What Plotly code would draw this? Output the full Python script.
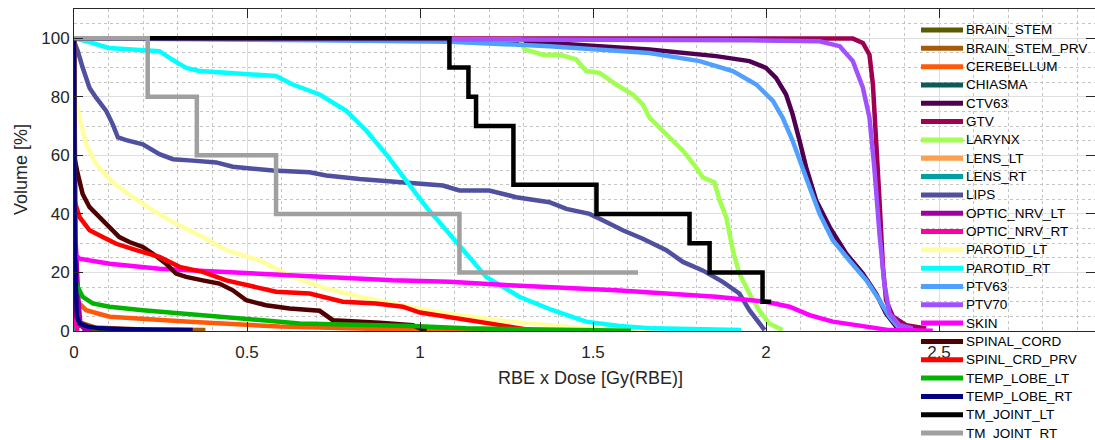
import plotly.graph_objects as go

# ---------------- data (dose in Gy(RBE), volume in %) ----------------
STRUCTURES = ["BRAIN_STEM", "BRAIN_STEM_PRV", "CEREBELLUM", "CHIASMA", "CTV63", "GTV",
              "LARYNX", "LENS_LT", "LENS_RT", "LIPS", "OPTIC_NRV_LT", "OPTIC_NRV_RT",
              "PAROTID_LT", "PAROTID_RT", "PTV63", "PTV70", "SKIN", "SPINAL_CORD",
              "SPINL_CRD_PRV", "TEMP_LOBE_LT", "TEMP_LOBE_RT", "TM_JOINT_LT", "TM_JOINT_RT"]

BRAIN_STEM_D = [0, 0.002, 0.01, 0.05, 0.15]
BRAIN_STEM_V = [100, 10, 2, 0.8, 0.3]
BRAIN_STEM_PRV_D = [0, 0.003, 0.015, 0.06, 0.2, 0.38]
BRAIN_STEM_PRV_V = [100, 15, 3, 1.2, 0.5, 0.3]
CEREBELLUM_D = [0, 0.002, 0.006, 0.035, 0.103, 0.247, 0.334, 0.594, 0.979, 1.35]
CEREBELLUM_V = [100, 20, 10.5, 7.1, 4.9, 3.7, 3.2, 1.5, 0.4, 0.1]
CHIASMA_D = [0, 0.002, 0.006]
CHIASMA_V = [100, 3, 0]
CTV63_D = [0, 0.8, 1.085, 1.374, 1.663, 1.856, 1.952, 2.0, 2.029, 2.058, 2.077, 2.097, 2.116,
           2.145, 2.184, 2.232, 2.28, 2.318, 2.347, 2.376, 2.415]
CTV63_V = [100, 99.8, 99.5, 98.4, 96.2, 93.9, 92.2, 89.9, 86.5, 80.8, 74, 65, 55.9,
           44.6, 35.5, 26.4, 19.6, 12.8, 6, 1.5, 0.3]
GTV_D = [0, 2.155, 2.251, 2.28, 2.299, 2.309, 2.318, 2.328, 2.338, 2.347, 2.367, 2.405, 2.463]
GTV_V = [100, 100, 99.9, 98.4, 94.4, 84.2, 67.2, 44.6, 21.9, 10.5, 4.9, 2, 0.9]
LARYNX_D = [0, 1.29, 1.302, 1.355, 1.403, 1.451, 1.48, 1.519, 1.567, 1.615, 1.644, 1.663,
            1.712, 1.76, 1.798, 1.817, 1.851, 1.866, 1.885, 1.904, 1.923, 1.952, 1.98,
            2.009, 2.048]
LARYNX_V = [100, 99.5, 96.2, 94.4, 94.4, 92.8, 88.8, 88.2, 84.2, 80.8, 77.4, 72.9,
            67.2, 61.6, 55.9, 52.5, 50.8, 44.6, 38.9, 27.6, 19.6, 12.8, 7.1,
            2.6, 0.3]
LENS_LT_D = [0, 0.003, 0.008]
LENS_LT_V = [100, 2, 0]
LENS_RT_D = [0, 0.003, 0.008]
LENS_RT_V = [100, 2, 0]
LIPS_D = [0, 0.011, 0.025, 0.045, 0.064, 0.093, 0.112, 0.127, 0.151, 0.199, 0.247, 0.286,
          0.343, 0.411, 0.459, 0.575, 0.681, 0.729, 0.825, 0.97, 1.066, 1.114, 1.2, 1.278,
          1.374, 1.423, 1.49, 1.528, 1.586, 1.644, 1.712, 1.76, 1.817, 1.875, 1.923,
          1.952, 1.98, 1.996]
LIPS_V = [99, 95.6, 90, 83, 79.7, 75.2, 70.6, 66.1, 65.2, 63.8, 60.4, 58.7,
          58.2, 57.6, 56.1, 54.8, 54.2, 53.1, 51.9, 50.8, 49.7, 48, 48, 45.7,
          44, 41.7, 40, 37.8, 34.4, 31.5, 27.6, 23.6, 20.7, 16.8, 12.8,
          7.1, 2.6, 0.3]
OPTIC_NRV_LT_D = [0, 0.005, 0.012, 0.018, 0.03, 0.05]
OPTIC_NRV_LT_V = [100, 30, 12, 3, 0.5, 0]
OPTIC_NRV_RT_D = [0, 0.002, 0.01]
OPTIC_NRV_RT_V = [100, 5, 0]
PAROTID_LT_D = [0, 0.0015, 0.016, 0.035, 0.064, 0.112, 0.17, 0.228, 0.295, 0.372, 0.44,
                0.536, 0.632, 0.729, 0.825, 0.921, 1.018, 1.114, 1.259, 1.48, 1.673]
PAROTID_LT_V = [100, 80.8, 72.9, 63.8, 57, 50.8, 45.7, 41.2, 36.6, 32.1, 27.6,
                24.1, 18.5, 14.5, 11.7, 9.4, 7.1, 5.4, 3.2, 0.9, 0.3]
PAROTID_RT_D = [0, 0.045, 0.10, 0.209, 0.247, 0.276, 0.324, 0.363, 0.44, 0.584, 0.632,
                0.71, 0.787, 0.845, 0.902, 0.96, 1.018, 1.076, 1.133, 1.191, 1.287,
                1.383, 1.48, 1.577, 1.672, 1.817, 1.928]
PAROTID_RT_V = [100, 98.7, 96.7, 95.8, 95.6, 93.3, 89.9, 88.8, 88.2, 87.1, 84.2,
                80.8, 75.2, 68.4, 60.4, 51.4, 42.3, 34.4, 26.4, 18.5, 11.7,
                7.1, 3.2, 1.7, 0.9, 0.6, 0.3]
PTV63_D = [0, 0.3, 0.7, 1.085, 1.374, 1.663, 1.808, 1.904, 1.972, 2.02, 2.048, 2.077, 2.097,
           2.126, 2.155, 2.193, 2.241, 2.29, 2.328, 2.357, 2.386, 2.415]
PTV63_V = [100, 99.8, 99.3, 98.8, 97.3, 95, 92.2, 88.8, 84.2, 78.6, 72.9, 65, 58.2,
           49.1, 40, 31, 24.1, 17.3, 10.5, 4.9, 0.9, 0.3]
PTV70_D = [0, 1.663, 1.952, 2.155, 2.213, 2.251, 2.28, 2.299, 2.313, 2.328, 2.342, 2.357,
           2.386, 2.424]
PTV70_V = [100, 99.6, 99.3, 99, 97.3, 92.2, 83.1, 72.9, 55.9, 33.2, 16.2, 6,
           2, 0.9]
SKIN_D = [0, 0.002, 0.016, 0.103, 0.247, 0.44, 0.632, 0.921, 1.085, 1.259, 1.567, 1.856,
          2.0, 2.068, 2.126, 2.193, 2.29, 2.357, 2.482]
SKIN_V = [100, 26.4, 24.7, 23, 21.3, 20.2, 19, 17.3, 16.8, 15.6, 13.9, 11.7,
          10, 8.3, 5.4, 3.2, 1.5, 0.3, 0.1]
SPINAL_CORD_D = [0, 0.001, 0.011, 0.025, 0.045, 0.074, 0.103, 0.131, 0.16, 0.199, 0.228,
                 0.266, 0.295, 0.324, 0.372, 0.42, 0.459, 0.498, 0.555, 0.623, 0.71,
                 0.748, 0.883, 0.979, 1.018]
SPINAL_CORD_V = [100, 59.3, 53.6, 46.8, 42.3, 38.9, 35.5, 32.1, 30.4, 28.7, 26.4,
                 23, 19.6, 18.5, 17.3, 16.2, 13.9, 10.5, 8.8, 7.7, 6.9,
                 3.7, 2.8, 2, 0]
SPINL_CRD_PRV_D = [0, 0.001, 0.016, 0.045, 0.083, 0.122, 0.18, 0.247, 0.305, 0.372, 0.44,
                   0.517, 0.584, 0.681, 0.777, 0.873, 0.95, 1.0, 1.114, 1.21, 1.259, 1.336]
SPINL_CRD_PRV_V = [100, 44.6, 38.9, 34.4, 32.1, 29.8, 27.6, 25.3, 21.9, 20.2, 17.3,
                   15.1, 13.4, 12.8, 10, 9.4, 8.3, 6.3, 4.3, 2.6, 1.5, 0]
TEMP_LOBE_LT_D = [0, 0.001, 0.006, 0.025, 0.054, 0.103, 0.199, 0.334, 0.594, 0.652, 0.979,
                  1.133, 1.61]
TEMP_LOBE_LT_V = [100, 19.7, 16.2, 11.7, 9.4, 8.3, 7.1, 5.8, 3.2, 2.6, 1.7,
                  0.9, 0.1]
TEMP_LOBE_RT_D = [0, 0.002, 0.008, 0.016, 0.04, 0.074, 0.15, 0.25, 0.343]
TEMP_LOBE_RT_V = [100, 30, 5, 2.6, 1.5, 0.9, 0.6, 0.4, 0.3]
TM_JOINT_LT_D = [0, 1.085, 1.14, 1.162, 1.27, 1.51, 1.779, 1.837, 1.99, 2.015]
TM_JOINT_LT_V = [100, 90, 80, 70, 50, 40, 30, 20, 10, 10]
TM_JOINT_RT_D = [0, 0.213, 0.355, 0.584, 1.114, 1.63]
TM_JOINT_RT_V = [100, 80, 60, 40, 20, 20]

X_TICKS = [0, 0.5, 1, 1.5, 2, 2.5]
X_TICK_LABELS = ["0", "0.5", "1", "1.5", "2", "2.5"]
Y_TICKS = [0, 20, 40, 60, 80, 100]
Y_TICK_LABELS = ["0", "20", "40", "60", "80", "100"]

# ---------------- styles ----------------
COLORS = {
    "BRAIN_STEM": "#5a5a00", "BRAIN_STEM_PRV": "#a65a0a", "CEREBELLUM": "#ff5a0a",
    "CHIASMA": "#0a5a5a", "CTV63": "#500050", "GTV": "#a0004f", "LARYNX": "#a0ff50",
    "LENS_LT": "#ffa050", "LENS_RT": "#00a0a0", "LIPS": "#5050a0", "OPTIC_NRV_LT": "#a000a0",
    "OPTIC_NRV_RT": "#ff00a0", "PAROTID_LT": "#ffffa0", "PAROTID_RT": "#00ffff",
    "PTV63": "#50a0ff", "PTV70": "#a050ff", "SKIN": "#ff00ff", "SPINAL_CORD": "#500000",
    "SPINL_CRD_PRV": "#ff0000", "TEMP_LOBE_LT": "#00b400", "TEMP_LOBE_RT": "#000080",
    "TM_JOINT_LT": "#000000", "TM_JOINT_RT": "#a0a0a0",
}
STEP = {"TM_JOINT_LT", "TM_JOINT_RT"}

data = {name: (globals()[name + "_D"], globals()[name + "_V"]) for name in STRUCTURES}

W, H = 1095, 440
ML, MT, MB = 74, 9, 109
PW, PH = W - ML, H - MT - MB
PX_PER_GY = 346.0
X_MAX = PW / PX_PER_GY

FONT = "Liberation Sans, Arial, Helvetica, sans-serif"
TXT = "#262626"


def px_x(px):
    return (px - ML) / PW


def px_y(py):
    return 1 - (py - MT) / PH


fig = go.Figure()
for name in STRUCTURES:
    d, v = data[name]
    fig.add_trace(go.Scatter(
        x=d, y=v, mode="lines", name=name, showlegend=False,
        line=dict(color=COLORS[name], width=4.5, shape="hv" if name in STEP else "linear"),
    ))

axis_common = dict(
    showline=True, linecolor=TXT, linewidth=1, mirror="ticks",
    ticks="inside", ticklen=9, tickcolor=TXT, tickwidth=1,
    showgrid=True, gridcolor="#dedede", gridwidth=1, automargin=False,
    zeroline=False, tickfont=dict(family=FONT, size=17, color=TXT),
)

fig.update_xaxes(
    range=[0, X_MAX], tickvals=X_TICKS, ticktext=X_TICK_LABELS,
    minor=dict(dtick=0.1, tick0=0, showgrid=True, gridcolor="#c4c4c4", griddash="dot", gridwidth=1),
    ticklabelstandoff=6,
    **axis_common,
)
fig.update_yaxes(
    range=[0, 110], tickvals=Y_TICKS, ticktext=Y_TICK_LABELS,
    minor=dict(dtick=5, tick0=0, showgrid=True, gridcolor="#c4c4c4", griddash="dot", gridwidth=1),
    ticklabelstandoff=0,
    **axis_common,
)

fig.add_annotation(text="RBE x Dose [Gy(RBE)]", xref="paper", yref="paper",
                   x=px_x(590), y=px_y(378),
                   showarrow=False, xanchor="center", yanchor="middle",
                   font=dict(family=FONT, size=18, color=TXT))
fig.add_annotation(text="Volume [%]", xref="paper", yref="paper",
                   x=px_x(21), y=0.5, textangle=-90,
                   showarrow=False, xanchor="center", yanchor="middle",
                   font=dict(family=FONT, size=18, color=TXT))

# legend (drawn manually so that it can run past the bottom of the axes like the reference)
LEG_Y0, LEG_DY = 30.0, 18.32
for i, name in enumerate(STRUCTURES):
    yy = px_y(LEG_Y0 + i * LEG_DY)
    fig.add_shape(type="line", xref="paper", yref="paper",
                  x0=px_x(921), x1=px_x(963), y0=yy, y1=yy,
                  line=dict(color=COLORS[name], width=5), layer="above")
    fig.add_annotation(text=name, xref="paper", yref="paper",
                       x=px_x(964), y=yy, xanchor="left", yanchor="middle",
                       showarrow=False, font=dict(family=FONT, size=13.5, color="#000000"))

fig.update_layout(
    width=W, height=H,
    margin=dict(l=ML, r=0, t=MT, b=MB, autoexpand=False),
    paper_bgcolor="white", plot_bgcolor="white",
    showlegend=False,
)

fig.write_html("out.html", config={"displayModeBar": False},
               post_script="document.body.style.margin='0';")
